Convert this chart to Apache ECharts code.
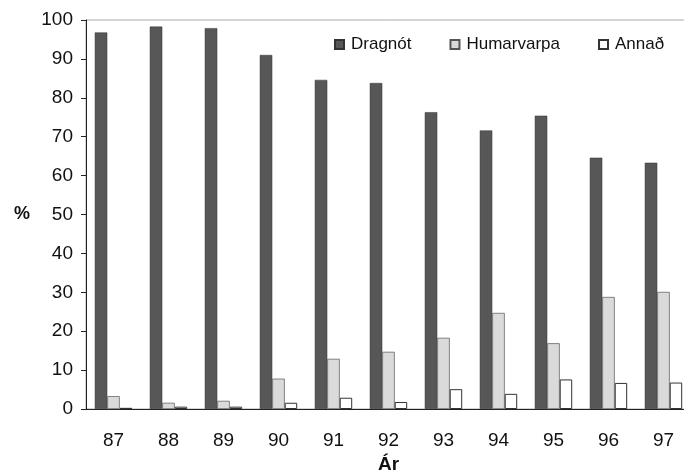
<!DOCTYPE html>
<html><head><meta charset="utf-8">
<script src="https://cdn.jsdelivr.net/npm/echarts@6/dist/echarts.min.js"></script>
<style>html,body{margin:0;padding:0;background:#fff}#c{width:684px;height:476px}</style>
</head><body><div id="c"></div>
<script>
var categories = ['87','88','89','90','91','92','93','94','95','96','97'];
var dragnot = [96.8, 98.3, 97.9, 91.0, 84.6, 83.8, 76.3, 71.6, 75.4, 64.6, 63.3];
var humarvarpa = [3.3, 1.6, 2.1, 7.8, 12.9, 14.7, 18.3, 24.7, 16.9, 28.8, 30.1];
var annad = [0.3, 0.6, 0.6, 1.6, 2.9, 1.8, 5.1, 3.9, 7.6, 6.7, 6.8];
var seriesNames = ['Dragnót', 'Humarvarpa', 'Annað'];

var font = 'Liberation Sans, Arial, sans-serif';
var chart = echarts.init(document.getElementById('c'));
chart.setOption({
  animation: false,
  backgroundColor: '#fff',
  grid: {left: 86, top: 20, right: -7, bottom: 67, show: true, borderColor: '#aaa', borderWidth: 1,
         outerBoundsMode: 'none', containLabel: false},
  legend: {
    data: seriesNames, left: 334, top: 36, width: 400, icon: 'rect',
    itemWidth: 9, itemHeight: 9, itemGap: 38, padding: 0,
    textStyle: {fontFamily: font, fontSize: 17, color: '#111', padding: [0, 0, 0, 2]}
  },
  xAxis: {
    type: 'category', data: categories,
    name: 'Ár', nameLocation: 'middle', nameGap: 45,
    nameTextStyle: {fontFamily: font, fontSize: 19, fontWeight: 'bold', color: '#111'},
    axisLine: {lineStyle: {color: '#222', width: 1}},
    axisTick: {length: 6, lineStyle: {color: '#222'}},
    axisLabel: {fontFamily: font, fontSize: 19, color: '#111', margin: 22}
  },
  yAxis: {
    type: 'value', min: 0, max: 100, interval: 10,
    name: '%', nameLocation: 'middle', nameGap: 56, nameRotate: 0,
    nameTextStyle: {fontFamily: font, fontSize: 18, fontWeight: 'bold', color: '#111'},
    axisLine: {show: true, lineStyle: {color: '#222', width: 1}},
    axisTick: {show: true, length: 5, lineStyle: {color: '#222'}},
    splitLine: {show: false},
    axisLabel: {fontFamily: font, fontSize: 19, color: '#111', margin: 13}
  },
  series: [
    {name: seriesNames[0], type: 'bar', data: dragnot, barGap: '0%', barCategoryGap: '32%',
     itemStyle: {color: '#575757', borderColor: '#333', borderWidth: 0.5}},
    {name: seriesNames[1], type: 'bar', data: humarvarpa,
     itemStyle: {color: '#dadada', borderColor: '#555', borderWidth: 0.7}},
    {name: seriesNames[2], type: 'bar', data: annad,
     itemStyle: {color: '#ffffff', borderColor: '#333', borderWidth: 1}}
  ]
});
</script></body></html>
